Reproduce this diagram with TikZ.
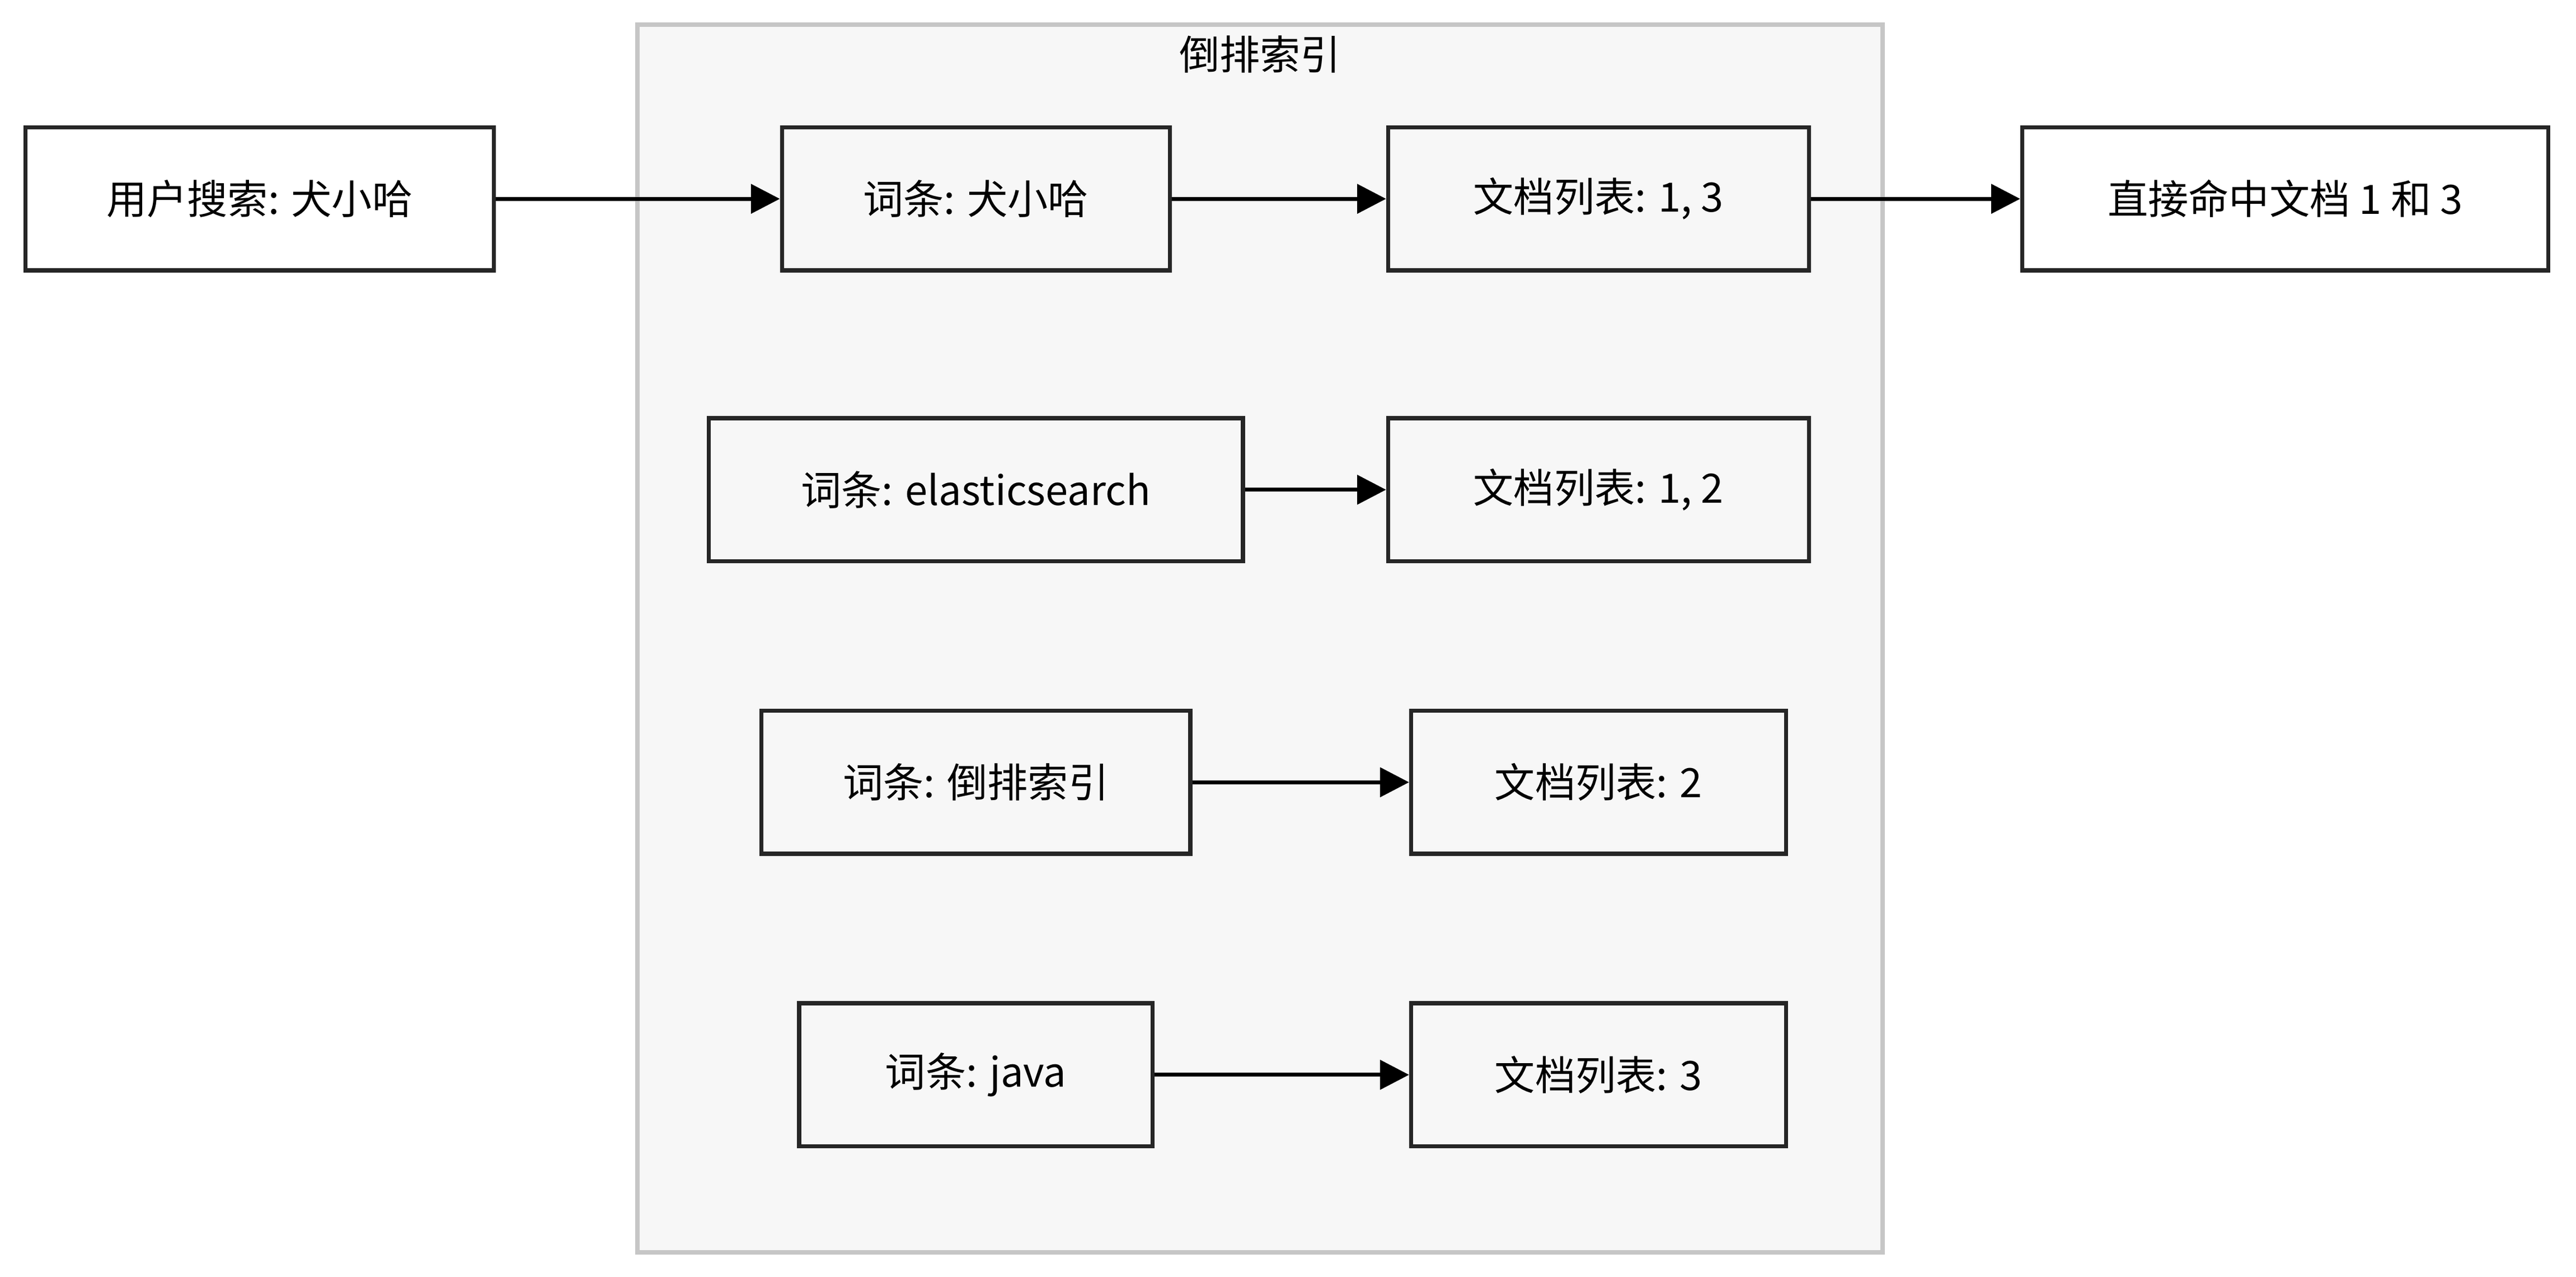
\documentclass[tikz,border=0pt]{standalone}
\usepackage{fontspec}
\setmainfont{Noto Sans CJK SC}
\usetikzlibrary{arrows.meta}
\tikzset{
  box/.style={draw=black!85, line width=0.7pt, minimum height=0.87cm, inner sep=0pt, font=\fontsize{7}{8}\selectfont},
  link/.style={line width=0.7pt, -{Triangle[length=5pt,width=5pt]}}
}
\begin{document}
\begin{tikzpicture}[x=0.01cm,y=-0.01cm]
	\useasboundingbox (0,0) rectangle (1568,777);
	% container
	\draw[fill=gray!6, draw=gray!45, line width=0.8pt] (388,15) rectangle (1146,762);
	\node[font=\fontsize{7}{8}\selectfont] (title) at (767,33) {倒排索引};

	\node[box, minimum width=2.85cm] (query) at (158,121) {用户搜索: 犬小哈};
	\node[box, minimum width=2.36cm] (t1) at (594,121) {词条: 犬小哈};
	\node[box, minimum width=2.56cm] (d1) at (973,121) {文档列表: 1, 3};
	\node[box, minimum width=3.2cm] (hit) at (1391,121) {直接命中文档 1 和 3};

	\node[box, minimum width=3.25cm] (t2) at (594,298) {词条: elasticsearch};
	\node[box, minimum width=2.56cm] (d2) at (973,298) {文档列表: 1, 2};

	\node[box, minimum width=2.61cm] (t3) at (594,476) {词条: 倒排索引};
	\node[box, minimum width=2.28cm] (d3) at (973,476) {文档列表: 2};

	\node[box, minimum width=2.15cm] (t4) at (594,654) {词条: java};
	\node[box, minimum width=2.28cm] (d4) at (973,654) {文档列表: 3};

	\draw[link] (query) -- (t1);
	\draw[link] (t1) -- (d1);
	\draw[link] (d1) -- (hit);
	\draw[link] (t2) -- (d2);
	\draw[link] (t3) -- (d3);
	\draw[link] (t4) -- (d4);
\end{tikzpicture}
\end{document}
